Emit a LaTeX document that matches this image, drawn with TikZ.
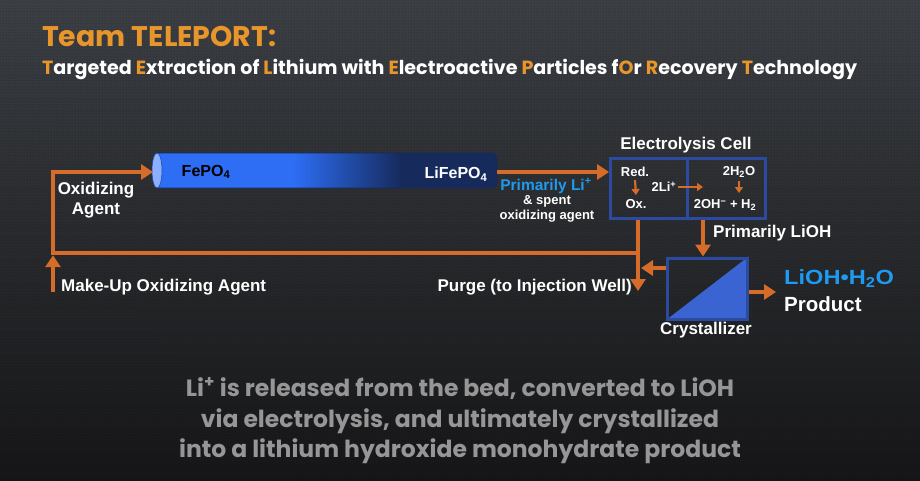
\documentclass[tikz,border=0pt]{standalone}
\usepackage{fontspec}
\setmainfont{Liberation Sans}
\newfontfamily\gothic{Poppins}
\usetikzlibrary{arrows.meta,patterns}
\definecolor{bgtop}{RGB}{60,63,68}
\definecolor{bgmid}{RGB}{40,42,45}
\definecolor{bgbot}{RGB}{22,22,24}
\definecolor{flow}{RGB}{214,108,42}
\definecolor{torange}{RGB}{232,150,44}
\definecolor{cellblue}{RGB}{44,74,160}
\definecolor{crysblue}{RGB}{58,100,210}
\definecolor{liblue}{RGB}{30,155,240}
\definecolor{cylblue}{RGB}{45,110,245}
\definecolor{cyldark}{RGB}{22,42,92}
\definecolor{capblue}{RGB}{140,175,255}
\definecolor{foot}{RGB}{150,150,150}
\pgfdeclarehorizontalshading{cylshade}{100bp}{color(0bp)=(cylblue); color(45bp)=(cylblue); color(61bp)=(cyldark); color(100bp)=(cyldark)}
\newcommand{\hl}[1]{\textcolor{torange}{#1}}
\begin{document}
\begin{tikzpicture}[x=1pt,y=-1pt,
  flowline/.style={draw=flow, line width=4.5pt},
  flowarrow/.style={draw=flow, line width=4.5pt, -{Triangle[length=12pt,width=15pt]}},
  smallarrow/.style={draw=flow, line width=2.2pt, -{Triangle[length=6pt,width=8pt]}},
  lbl/.style={text=white, font=\bfseries\fontsize{17}{20}\selectfont, inner sep=0pt, align=center},
  small/.style={text=white, font=\bfseries\fontsize{13}{15}\selectfont, inner sep=0pt},
  boxstyle/.style={draw=cellblue, line width=3pt, inner sep=0pt}]
% background
\shade[top color=bgtop, bottom color=bgbot, middle color=bgmid] (0,0) rectangle (920,480);
\fill[pattern=dots, pattern color=black, fill opacity=0.35] (0,0) rectangle (920,480);
\useasboundingbox (0,0) rectangle (920,480);
% title
\node[anchor=base west, inner sep=0pt, text=torange, font=\gothic\bfseries\fontsize{28.4}{30}\selectfont] (title) at (42,46) {Team TELEPORT:};
\node[anchor=base west, inner sep=0pt, text=white, font=\gothic\bfseries\fontsize{19.1}{20}\selectfont] (subtitle) at (42,74)
 {\hl{T}argeted \hl{E}xtraction of \hl{L}ithium with \hl{E}lectroactive \hl{P}articles f\hl{O}r \hl{R}ecovery \hl{T}echnology};
% cylinder
\shade[shading=cylshade, draw=cyldark, line width=0.6pt] (157,153) [rounded corners=6pt] -- (497,153) -- (497,188) [sharp corners] -- (157,188) -- cycle;
\draw[fill=capblue, draw=cylblue!70!black, line width=0.6pt] (157,170.5) ellipse [x radius=5, y radius=17.5];
\coordinate (cylL) at (153,172);
\coordinate (cylR) at (497,172);
\node[text=black, font=\bfseries\fontsize{16}{19}\selectfont, inner sep=0pt] (fepo) at (206,172) {FePO\textsubscript{4}};
\node[text=white, font=\bfseries\fontsize{16}{19}\selectfont, inner sep=0pt] (lifepo) at (456,174) {LiFePO\textsubscript{4}};
% electrolysis cell
\node[boxstyle, anchor=north west, minimum width=77pt, minimum height=60pt] (cellL) at (609,157) {};
\node[boxstyle, anchor=north west, minimum width=78pt, minimum height=60pt] (cellR) at (686,157) {};
\node[lbl] (celltitle) at (686,145) {Electrolysis Cell};
\node[small] (red) at (635,172) {Red.};
\node[small] (ox) at (636,204) {Ox.};
\node[small] (li) at (664,187) {2Li\textsuperscript{+}};
\node[small] (water) at (739,172) {2H\textsubscript{2}O};
\node[small] (ohh) at (725,205) {2OH\textsuperscript{−} + H\textsubscript{2}};
\draw[smallarrow] (red.south) ++(0,3) -- (636,195);
\draw[smallarrow] (li.east) ++(1,0) -- (703,187);
\draw[smallarrow] (water.south) ++(0,3) -- (739,193);
% crystallizer
\node[boxstyle, minimum width=80pt, minimum height=61pt] (crys) at (707,288.5) {};
\fill[crysblue] (crys.south west) -- (crys.north east) -- (crys.south east) -- cycle;
\node[boxstyle, minimum width=80pt, minimum height=61pt] at (707,288.5) {};
\node[lbl] (cryslbl) at (706,330) {Crystallizer};
% labels
\node[lbl] (oxag) at (96,200) {Oxidizing\\Agent};
\node[lbl, anchor=west] (makeup) at (61,287) {Make-Up Oxidizing Agent};
\node[lbl, anchor=east] (purge) at (632,287) {Purge (to Injection Well)};
\node[lbl, anchor=west] (plioh) at (713,233) {Primarily LiOH};
\node[text=liblue, font=\bfseries\fontsize{15.5}{17}\selectfont, inner sep=0pt] (pli) at (546,186) {Primarily Li\textsuperscript{+}};
\node[text=white, font=\bfseries\fontsize{13}{15}\selectfont, inner sep=0pt, align=center] (spent) at (547,209) {\& spent\\oxidizing agent};
\node[text=liblue, font=\bfseries\fontsize{20.5}{22}\selectfont, inner sep=0pt, anchor=west] (prod) at (784,279) {\scalebox{1.15}[1]{LiOH•H\textsubscript{2}O}};
\node[text=white, font=\bfseries\fontsize{20.5}{22}\selectfont, inner sep=0pt, anchor=west] (prodlbl) at (784,304) {Product};
% connectors
\coordinate (pj) at (638,253);
\coordinate (ret) at (53,253);
\coordinate (upc) at (53,172);
\coordinate (mu) at (53,292);
\coordinate (purgeend) at (638,291);
\coordinate (cl) at (641,268);
\coordinate (lx) at (703,0);
\coordinate (pa) at (776,292);
\draw[flowarrow] (cylR) -- (cylR -| cellL.west);
\draw[flowarrow] (purgeend |- cellL.south) -- (purgeend);
\draw[flowarrow, line join=miter] (pj) -- (ret) -- (upc) -- (cylL);
\draw[flowarrow, shorten >=2.2pt] (mu) -- (ret);
\draw[flowarrow] (cl -| crys.west) -- (cl);
\draw[flowarrow] (lx |- cellR.south) -- (lx |- crys.north);
\draw[flowarrow] (pa -| crys.east) -- (pa);
% footer
\node[text=foot, font=\gothic\bfseries\fontsize{23.5}{30.5}\selectfont, align=center, inner sep=0pt] (footer) at (460,421)
 {Li\textsuperscript{+} is released from the bed, converted to LiOH\\via electrolysis, and ultimately crystallized\\into a lithium hydroxide monohydrate product};
\end{tikzpicture}
\end{document}
